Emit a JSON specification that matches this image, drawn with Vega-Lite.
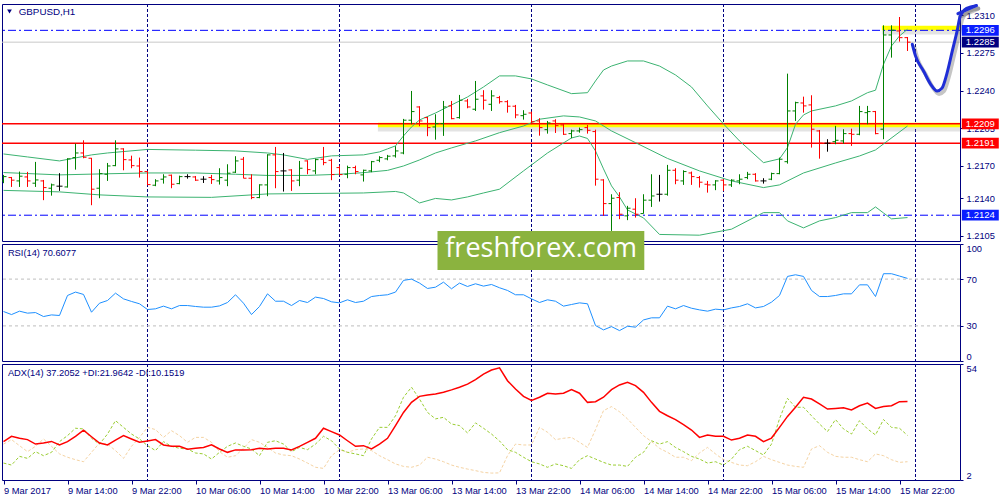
{
  "$schema": "https://vega.github.io/schema/vega-lite/v6.json",
  "background": "#ffffff",
  "padding": {"left": 0, "top": 0, "right": 0, "bottom": 0},
  "bounds": "flush",
  "spacing": 3,
  "config": {
    "font": "Liberation Sans",
    "view": {"stroke": "#000080", "strokeWidth": 1},
    "axis": {
      "title": null,
      "grid": false,
      "domain": false,
      "labelFont": "Liberation Sans",
      "labelFontSize": 9.3,
      "labelColor": "#000080",
      "tickColor": "#000080"
    }
  },
  "datasets": {
    "days": [{"i": 18}, {"i": 42}, {"i": 66}, {"i": 90}, {"i": 114}],
    "tags": [
      {"p": 1.2296, "kind": "level"},
      {"p": 1.2285, "kind": "bid"},
      {"p": 1.2209, "kind": "support"},
      {"p": 1.2191, "kind": "support"},
      {"p": 1.2124, "kind": "level"}
    ],
    "zones": [{"i": 46.8, "p": 1.2208}, {"i": 109.8, "p": 1.22982}],
    "arrow": [
      {"seg": "curve", "i": 113.6, "p": 1.2283},
      {"seg": "curve", "i": 114, "p": 1.22722},
      {"seg": "curve", "i": 115, "p": 1.22582},
      {"seg": "curve", "i": 115.9, "p": 1.22458},
      {"seg": "curve", "i": 116.7, "p": 1.22396},
      {"seg": "curve", "i": 117.3, "p": 1.22421},
      {"seg": "curve", "i": 117.9, "p": 1.22551},
      {"seg": "curve", "i": 118.6, "p": 1.22768},
      {"seg": "curve", "i": 119.2, "p": 1.22954},
      {"seg": "curve", "i": 119.6, "p": 1.23094},
      {"seg": "curve", "i": 120.4, "p": 1.23165},
      {"seg": "curve", "i": 121.6, "p": 1.2319},
      {"seg": "head", "i": 119.3, "p": 1.23115},
      {"seg": "head", "i": 121.6, "p": 1.2319}
    ],
    "bars": [
      {"i":0,"o":1.21559,"h":1.21615,"l":1.21538,"c":1.21599},
      {"i":1,"o":1.2159,"h":1.21596,"l":1.21503,"c":1.21566},
      {"i":2,"o":1.21559,"h":1.21646,"l":1.21503,"c":1.21603},
      {"i":3,"o":1.21596,"h":1.21643,"l":1.21503,"c":1.21559},
      {"i":4,"o":1.21538,"h":1.21736,"l":1.21503,"c":1.21568},
      {"i":5,"o":1.21559,"h":1.21568,"l":1.2138,"c":1.21497},
      {"i":6,"o":1.21491,"h":1.21534,"l":1.21422,"c":1.21522},
      {"i":7,"o":1.2151,"h":1.21631,"l":1.21466,"c":1.2151},
      {"i":8,"o":1.21503,"h":1.2177,"l":1.21497,"c":1.21764},
      {"i":9,"o":1.21776,"h":1.21906,"l":1.21664,"c":1.21819},
      {"i":10,"o":1.21819,"h":1.21937,"l":1.2177,"c":1.21779},
      {"i":11,"o":1.2177,"h":1.21773,"l":1.21333,"c":1.21482},
      {"i":12,"o":1.21491,"h":1.21668,"l":1.21398,"c":1.21627},
      {"i":13,"o":1.21621,"h":1.21726,"l":1.21559,"c":1.21698},
      {"i":14,"o":1.21701,"h":1.21937,"l":1.21696,"c":1.21857},
      {"i":15,"o":1.21857,"h":1.21863,"l":1.21658,"c":1.21757},
      {"i":16,"o":1.21754,"h":1.21794,"l":1.21677,"c":1.21701},
      {"i":17,"o":1.21698,"h":1.21776,"l":1.2159,"c":1.21646},
      {"i":18,"o":1.21646,"h":1.21652,"l":1.21519,"c":1.21525},
      {"i":19,"o":1.21519,"h":1.21575,"l":1.2151,"c":1.21559},
      {"i":20,"o":1.21575,"h":1.21621,"l":1.21534,"c":1.21596},
      {"i":21,"o":1.21612,"h":1.21618,"l":1.21491,"c":1.21528},
      {"i":22,"o":1.21534,"h":1.21608,"l":1.21528,"c":1.21599},
      {"i":23,"o":1.21599,"h":1.21621,"l":1.2158,"c":1.21599},
      {"i":24,"o":1.21596,"h":1.21605,"l":1.21559,"c":1.21566},
      {"i":25,"o":1.21575,"h":1.21603,"l":1.2154,"c":1.21575},
      {"i":26,"o":1.2159,"h":1.21615,"l":1.21531,"c":1.21571},
      {"i":27,"o":1.21559,"h":1.21677,"l":1.21525,"c":1.2159},
      {"i":28,"o":1.21566,"h":1.21714,"l":1.2151,"c":1.21631},
      {"i":29,"o":1.2164,"h":1.21789,"l":1.21633,"c":1.21745},
      {"i":30,"o":1.21761,"h":1.21782,"l":1.21584,"c":1.21584},
      {"i":31,"o":1.21584,"h":1.21621,"l":1.21389,"c":1.21404},
      {"i":32,"o":1.21404,"h":1.21528,"l":1.21398,"c":1.21522},
      {"i":33,"o":1.21522,"h":1.21807,"l":1.21417,"c":1.21801},
      {"i":34,"o":1.21801,"h":1.21875,"l":1.21491,"c":1.21646},
      {"i":35,"o":1.21652,"h":1.21819,"l":1.2146,"c":1.21652},
      {"i":36,"o":1.21661,"h":1.21668,"l":1.21466,"c":1.21559},
      {"i":37,"o":1.21566,"h":1.21745,"l":1.2151,"c":1.21677},
      {"i":38,"o":1.21745,"h":1.21751,"l":1.21621,"c":1.21664},
      {"i":39,"o":1.21652,"h":1.21766,"l":1.21621,"c":1.21757},
      {"i":40,"o":1.21761,"h":1.21875,"l":1.21705,"c":1.21729},
      {"i":41,"o":1.21751,"h":1.21764,"l":1.21566,"c":1.21618},
      {"i":42,"o":1.21683,"h":1.21701,"l":1.21612,"c":1.21618},
      {"i":43,"o":1.21621,"h":1.21701,"l":1.21584,"c":1.21683},
      {"i":44,"o":1.21683,"h":1.21701,"l":1.21621,"c":1.21646},
      {"i":45,"o":1.21615,"h":1.21664,"l":1.21553,"c":1.21658},
      {"i":46,"o":1.21652,"h":1.21745,"l":1.2164,"c":1.21738},
      {"i":47,"o":1.21751,"h":1.21789,"l":1.21733,"c":1.21776},
      {"i":48,"o":1.21764,"h":1.21801,"l":1.21751,"c":1.21789},
      {"i":49,"o":1.21792,"h":1.21882,"l":1.21776,"c":1.21838},
      {"i":50,"o":1.21819,"h":1.22136,"l":1.21807,"c":1.22124},
      {"i":51,"o":1.22124,"h":1.22396,"l":1.22086,"c":1.22204},
      {"i":52,"o":1.22247,"h":1.22254,"l":1.22068,"c":1.22117},
      {"i":53,"o":1.22148,"h":1.22154,"l":1.21975,"c":1.22055},
      {"i":54,"o":1.22061,"h":1.22179,"l":1.21943,"c":1.22092},
      {"i":55,"o":1.22092,"h":1.22303,"l":1.21978,"c":1.22247},
      {"i":56,"o":1.22257,"h":1.22303,"l":1.22133,"c":1.22138},
      {"i":57,"o":1.22148,"h":1.22359,"l":1.22138,"c":1.2231},
      {"i":58,"o":1.22303,"h":1.22322,"l":1.22235,"c":1.22247},
      {"i":59,"o":1.22226,"h":1.22489,"l":1.2221,"c":1.22319},
      {"i":60,"o":1.2235,"h":1.22403,"l":1.22222,"c":1.2231},
      {"i":61,"o":1.22272,"h":1.22403,"l":1.2221,"c":1.2235},
      {"i":62,"o":1.22334,"h":1.2235,"l":1.22278,"c":1.22296},
      {"i":63,"o":1.22296,"h":1.2231,"l":1.22194,"c":1.22254},
      {"i":64,"o":1.22254,"h":1.22266,"l":1.22142,"c":1.22173},
      {"i":65,"o":1.22166,"h":1.22217,"l":1.22129,"c":1.22179},
      {"i":66,"o":1.22191,"h":1.22204,"l":1.22086,"c":1.2211},
      {"i":67,"o":1.22117,"h":1.22142,"l":1.2198,"c":1.22055},
      {"i":68,"o":1.22036,"h":1.22117,"l":1.21999,"c":1.22098},
      {"i":69,"o":1.22117,"h":1.22133,"l":1.22005,"c":1.22073},
      {"i":70,"o":1.2208,"h":1.22092,"l":1.21987,"c":1.21993},
      {"i":71,"o":1.21999,"h":1.22036,"l":1.21956,"c":1.22024},
      {"i":72,"o":1.22024,"h":1.22055,"l":1.22008,"c":1.22036},
      {"i":73,"o":1.22055,"h":1.2208,"l":1.21999,"c":1.2203},
      {"i":74,"o":1.22018,"h":1.22036,"l":1.21515,"c":1.21575},
      {"i":75,"o":1.21568,"h":1.21575,"l":1.21234,"c":1.21348},
      {"i":76,"o":1.21348,"h":1.21435,"l":1.21094,"c":1.21398},
      {"i":77,"o":1.21404,"h":1.21454,"l":1.21203,"c":1.21249},
      {"i":78,"o":1.21234,"h":1.21327,"l":1.21194,"c":1.21305},
      {"i":79,"o":1.21296,"h":1.21398,"l":1.21218,"c":1.21249},
      {"i":80,"o":1.21255,"h":1.21435,"l":1.21255,"c":1.2138},
      {"i":81,"o":1.2138,"h":1.21621,"l":1.21317,"c":1.21419},
      {"i":82,"o":1.21435,"h":1.21615,"l":1.21367,"c":1.21435},
      {"i":83,"o":1.21435,"h":1.21708,"l":1.21422,"c":1.21658},
      {"i":84,"o":1.21658,"h":1.21677,"l":1.21528,"c":1.21566},
      {"i":85,"o":1.21559,"h":1.21658,"l":1.21522,"c":1.21646},
      {"i":86,"o":1.21633,"h":1.21646,"l":1.21522,"c":1.21599},
      {"i":87,"o":1.2159,"h":1.21605,"l":1.21497,"c":1.21547},
      {"i":88,"o":1.21528,"h":1.21559,"l":1.2145,"c":1.21522},
      {"i":89,"o":1.21522,"h":1.21566,"l":1.21473,"c":1.21559},
      {"i":90,"o":1.21566,"h":1.21575,"l":1.21466,"c":1.21522},
      {"i":91,"o":1.21522,"h":1.21575,"l":1.21503,"c":1.21566},
      {"i":92,"o":1.21559,"h":1.21621,"l":1.21528,"c":1.21575},
      {"i":93,"o":1.2159,"h":1.21643,"l":1.21575,"c":1.21621},
      {"i":94,"o":1.21621,"h":1.21631,"l":1.21553,"c":1.21559},
      {"i":95,"o":1.21559,"h":1.21584,"l":1.21534,"c":1.21559},
      {"i":96,"o":1.21575,"h":1.21636,"l":1.21566,"c":1.21627},
      {"i":97,"o":1.21627,"h":1.21776,"l":1.21621,"c":1.21761},
      {"i":98,"o":1.21738,"h":1.22557,"l":1.2172,"c":1.2221},
      {"i":99,"o":1.2221,"h":1.22296,"l":1.22117,"c":1.22287},
      {"i":100,"o":1.22284,"h":1.22343,"l":1.22194,"c":1.22257},
      {"i":101,"o":1.22266,"h":1.22356,"l":1.21869,"c":1.2204},
      {"i":102,"o":1.22024,"h":1.22033,"l":1.21766,"c":1.2191},
      {"i":103,"o":1.2191,"h":1.21947,"l":1.21831,"c":1.2191},
      {"i":104,"o":1.21924,"h":1.22071,"l":1.219,"c":1.21937},
      {"i":105,"o":1.21931,"h":1.2204,"l":1.21906,"c":1.21999},
      {"i":106,"o":1.21999,"h":1.22045,"l":1.21885,"c":1.21993},
      {"i":107,"o":1.21993,"h":1.22257,"l":1.21984,"c":1.22204},
      {"i":108,"o":1.22194,"h":1.22257,"l":1.22086,"c":1.22204},
      {"i":109,"o":1.22204,"h":1.2221,"l":1.21993,"c":1.21999},
      {"i":110,"o":1.2204,"h":1.23007,"l":1.21947,"c":1.22917},
      {"i":111,"o":1.22917,"h":1.23007,"l":1.22706,"c":1.22961},
      {"i":112,"o":1.22954,"h":1.23084,"l":1.22855,"c":1.22892},
      {"i":113,"o":1.22892,"h":1.22898,"l":1.22768,"c":1.2285}
    ],
    "bb": [
      {"band":"upper","i":0,"v":1.2181},{"band":"upper","i":3,"v":1.21782},{"band":"upper","i":7,"v":1.21745},
      {"band":"upper","i":9,"v":1.21773},{"band":"upper","i":11,"v":1.21801},{"band":"upper","i":13,"v":1.21819},
      {"band":"upper","i":18,"v":1.21852},{"band":"upper","i":24,"v":1.21845},{"band":"upper","i":29,"v":1.21838},
      {"band":"upper","i":33,"v":1.21819},{"band":"upper","i":35,"v":1.21801},{"band":"upper","i":38,"v":1.21759},
      {"band":"upper","i":41,"v":1.21792},{"band":"upper","i":45,"v":1.21801},{"band":"upper","i":47,"v":1.21829},
      {"band":"upper","i":48,"v":1.21857},{"band":"upper","i":49,"v":1.21885},{"band":"upper","i":50,"v":1.21978},
      {"band":"upper","i":51,"v":1.22061},{"band":"upper","i":52,"v":1.22126},{"band":"upper","i":54,"v":1.22191},
      {"band":"upper","i":56,"v":1.22266},{"band":"upper","i":58,"v":1.2234},{"band":"upper","i":60,"v":1.22433},
      {"band":"upper","i":62,"v":1.22536},{"band":"upper","i":64,"v":1.22536},{"band":"upper","i":66,"v":1.22508},
      {"band":"upper","i":68,"v":1.22452},{"band":"upper","i":71,"v":1.22371},{"band":"upper","i":73,"v":1.2238},
      {"band":"upper","i":74,"v":1.22489},{"band":"upper","i":75,"v":1.22591},{"band":"upper","i":76,"v":1.22628},
      {"band":"upper","i":78,"v":1.22675},{"band":"upper","i":80,"v":1.22675},{"band":"upper","i":82,"v":1.22628},
      {"band":"upper","i":84,"v":1.22545},{"band":"upper","i":86,"v":1.22433},{"band":"upper","i":88,"v":1.22257},
      {"band":"upper","i":90,"v":1.22089},{"band":"upper","i":92,"v":1.21931},{"band":"upper","i":95,"v":1.21729},
      {"band":"upper","i":97,"v":1.21764},{"band":"upper","i":98,"v":1.21869},{"band":"upper","i":99,"v":1.22086},
      {"band":"upper","i":100,"v":1.22173},{"band":"upper","i":101,"v":1.2221},{"band":"upper","i":104,"v":1.22257},
      {"band":"upper","i":106,"v":1.22303},{"band":"upper","i":108,"v":1.2238},{"band":"upper","i":109,"v":1.22403},
      {"band":"upper","i":110,"v":1.22644},{"band":"upper","i":111,"v":1.22815},{"band":"upper","i":112,"v":1.22908},
      {"band":"upper","i":113,"v":1.2297},
      {"band":"middle","i":0,"v":1.21637},{"band":"middle","i":7,"v":1.21615},{"band":"middle","i":12,"v":1.21624},
      {"band":"middle","i":18,"v":1.21633},{"band":"middle","i":24,"v":1.21633},{"band":"middle","i":29,"v":1.21621},
      {"band":"middle","i":33,"v":1.2161},{"band":"middle","i":38,"v":1.2161},{"band":"middle","i":42,"v":1.21621},
      {"band":"middle","i":45,"v":1.21636},{"band":"middle","i":48,"v":1.21657},{"band":"middle","i":50,"v":1.21698},
      {"band":"middle","i":52,"v":1.21754},{"band":"middle","i":54,"v":1.21819},{"band":"middle","i":56,"v":1.21866},
      {"band":"middle","i":59,"v":1.21931},{"band":"middle","i":62,"v":1.22008},{"band":"middle","i":65,"v":1.2207},
      {"band":"middle","i":67,"v":1.22133},{"band":"middle","i":70,"v":1.22164},{"band":"middle","i":72,"v":1.22154},
      {"band":"middle","i":74,"v":1.22117},{"band":"middle","i":76,"v":1.22024},{"band":"middle","i":79,"v":1.21915},
      {"band":"middle","i":83,"v":1.21768},{"band":"middle","i":87,"v":1.21652},{"band":"middle","i":91,"v":1.21559},
      {"band":"middle","i":95,"v":1.21497},{"band":"middle","i":97,"v":1.21522},{"band":"middle","i":100,"v":1.21633},
      {"band":"middle","i":104,"v":1.21726},{"band":"middle","i":107,"v":1.21791},{"band":"middle","i":109,"v":1.21847},
      {"band":"middle","i":110,"v":1.21903},{"band":"middle","i":113,"v":1.2207},
      {"band":"lower","i":0,"v":1.21471},{"band":"lower","i":7,"v":1.21457},{"band":"lower","i":12,"v":1.21429},
      {"band":"lower","i":18,"v":1.2141},{"band":"lower","i":26,"v":1.21406},{"band":"lower","i":33,"v":1.21438},
      {"band":"lower","i":45,"v":1.21447},{"band":"lower","i":49,"v":1.21461},{"band":"lower","i":50,"v":1.21447},
      {"band":"lower","i":51,"v":1.21401},{"band":"lower","i":52,"v":1.21354},{"band":"lower","i":54,"v":1.21396},
      {"band":"lower","i":56,"v":1.21382},{"band":"lower","i":58,"v":1.2141},{"band":"lower","i":60,"v":1.21447},
      {"band":"lower","i":62,"v":1.21482},{"band":"lower","i":65,"v":1.21652},{"band":"lower","i":68,"v":1.21819},
      {"band":"lower","i":71,"v":1.21959},{"band":"lower","i":72,"v":1.21977},{"band":"lower","i":73,"v":1.21954},
      {"band":"lower","i":74,"v":1.21838},{"band":"lower","i":75,"v":1.21671},{"band":"lower","i":76,"v":1.21513},
      {"band":"lower","i":77,"v":1.2141},{"band":"lower","i":78,"v":1.21289},{"band":"lower","i":80,"v":1.21215},
      {"band":"lower","i":82,"v":1.21061},{"band":"lower","i":87,"v":1.21054},{"band":"lower","i":91,"v":1.2111},
      {"band":"lower","i":95,"v":1.21264},{"band":"lower","i":97,"v":1.21264},{"band":"lower","i":98,"v":1.21187},
      {"band":"lower","i":100,"v":1.21122},{"band":"lower","i":102,"v":1.21187},{"band":"lower","i":104,"v":1.21218},
      {"band":"lower","i":106,"v":1.21264},{"band":"lower","i":108,"v":1.21264},{"band":"lower","i":109,"v":1.21317},
      {"band":"lower","i":110,"v":1.21261},{"band":"lower","i":111,"v":1.21206},{"band":"lower","i":113,"v":1.21218}
    ],
    "rsi": [
      {"i":0,"v":42.3},{"i":1,"v":39.7},{"i":2,"v":42.6},{"i":3,"v":40.9},{"i":4,"v":41.4},{"i":5,"v":38.0},
      {"i":6,"v":39.4},{"i":7,"v":38.9},{"i":8,"v":56.0},{"i":9,"v":58.9},{"i":10,"v":56.9},{"i":11,"v":41.7},
      {"i":12,"v":49.4},{"i":13,"v":51.7},{"i":14,"v":58.0},{"i":15,"v":53.1},{"i":16,"v":50.9},{"i":17,"v":48.9},
      {"i":18,"v":44.0},{"i":19,"v":44.6},{"i":20,"v":46.9},{"i":21,"v":44.6},{"i":22,"v":47.4},{"i":23,"v":47.4},
      {"i":24,"v":46.6},{"i":25,"v":46.0},{"i":26,"v":46.0},{"i":27,"v":47.1},{"i":28,"v":50.0},{"i":29,"v":56.6},
      {"i":30,"v":49.4},{"i":31,"v":39.7},{"i":32,"v":46.6},{"i":33,"v":57.4},{"i":34,"v":51.1},{"i":35,"v":51.1},
      {"i":36,"v":47.4},{"i":37,"v":51.7},{"i":38,"v":50.0},{"i":39,"v":54.6},{"i":40,"v":53.4},{"i":41,"v":50.6},
      {"i":42,"v":49.7},{"i":43,"v":52.3},{"i":44,"v":50.0},{"i":45,"v":51.1},{"i":46,"v":55.1},{"i":47,"v":56.0},
      {"i":48,"v":56.6},{"i":49,"v":58.9},{"i":50,"v":68.9},{"i":51,"v":70.0},{"i":52,"v":66.6},{"i":53,"v":62.0},
      {"i":54,"v":63.1},{"i":55,"v":67.4},{"i":56,"v":61.7},{"i":57,"v":66.6},{"i":58,"v":63.7},{"i":59,"v":66.0},
      {"i":60,"v":64.0},{"i":61,"v":65.4},{"i":62,"v":62.6},{"i":63,"v":60.3},{"i":64,"v":56.6},{"i":65,"v":56.6},
      {"i":66,"v":53.1},{"i":67,"v":50.0},{"i":68,"v":52.3},{"i":69,"v":51.1},{"i":70,"v":46.9},{"i":71,"v":48.3},
      {"i":72,"v":49.7},{"i":73,"v":48.9},{"i":74,"v":30.3},{"i":75,"v":26.6},{"i":76,"v":29.4},{"i":77,"v":26.0},
      {"i":78,"v":29.7},{"i":79,"v":28.9},{"i":80,"v":35.1},{"i":81,"v":36.9},{"i":82,"v":36.9},{"i":83,"v":46.9},
      {"i":84,"v":44.6},{"i":85,"v":47.4},{"i":86,"v":45.1},{"i":87,"v":43.7},{"i":88,"v":42.6},{"i":89,"v":44.3},
      {"i":90,"v":43.7},{"i":91,"v":45.4},{"i":92,"v":46.6},{"i":93,"v":48.9},{"i":94,"v":45.4},{"i":95,"v":46.6},
      {"i":96,"v":50.3},{"i":97,"v":56.0},{"i":98,"v":72.3},{"i":99,"v":73.7},{"i":100,"v":72.3},{"i":101,"v":60.3},
      {"i":102,"v":55.1},{"i":103,"v":55.1},{"i":104,"v":56.0},{"i":105,"v":57.4},{"i":106,"v":57.4},{"i":107,"v":65.1},
      {"i":108,"v":65.1},{"i":109,"v":55.1},{"i":110,"v":74.6},{"i":111,"v":74.6},{"i":112,"v":72.6},{"i":113,"v":70.6}
    ],
    "adx": [
      {"i":0,"adx":19.2,"pdi":9.6,"mdi":18.1},{"i":1,"adx":21.6,"pdi":8.7,"mdi":20.1},{"i":2,"adx":20.7,"pdi":12.6,"mdi":17.4},
      {"i":3,"adx":20.1,"pdi":11.7,"mdi":14.7},{"i":4,"adx":18.1,"pdi":14.7,"mdi":17.1},{"i":5,"adx":18.6,"pdi":12.9,"mdi":20.4},
      {"i":6,"adx":19.3,"pdi":14.4,"mdi":17.1},{"i":7,"adx":17.7,"pdi":19.2,"mdi":13.7},{"i":8,"adx":19.2,"pdi":21.9,"mdi":12.2},
      {"i":9,"adx":21.6,"pdi":25.2,"mdi":11.1},{"i":10,"adx":24.3,"pdi":24.9,"mdi":10.2},{"i":11,"adx":21.4,"pdi":20.7,"mdi":14.4},
      {"i":12,"adx":18.6,"pdi":18.1,"mdi":18.6},{"i":13,"adx":17.7,"pdi":22.6,"mdi":18.1},{"i":14,"adx":19.9,"pdi":28.6,"mdi":15.2},
      {"i":15,"adx":21.9,"pdi":25.6,"mdi":11.7},{"i":16,"adx":20.4,"pdi":22.6,"mdi":17.1},{"i":17,"adx":18.9,"pdi":20.4,"mdi":21.1},
      {"i":18,"adx":19.5,"pdi":17.4,"mdi":25.6},{"i":19,"adx":20.1,"pdi":15.2,"mdi":24.6},{"i":20,"adx":17.7,"pdi":19.2,"mdi":21.1},
      {"i":21,"adx":17.1,"pdi":17.1,"mdi":24.1},{"i":22,"adx":17.1,"pdi":16.2,"mdi":21.9},{"i":23,"adx":15.8,"pdi":15.9,"mdi":18.9},
      {"i":24,"adx":16.2,"pdi":14.1,"mdi":21.1},{"i":25,"adx":16.6,"pdi":13.7,"mdi":21.1},{"i":26,"adx":17.8,"pdi":11.4,"mdi":18.9},
      {"i":27,"adx":15.9,"pdi":14.4,"mdi":14.7},{"i":28,"adx":14.4,"pdi":17.1,"mdi":12.2},{"i":29,"adx":15.5,"pdi":18.6,"mdi":12.9},
      {"i":30,"adx":15.5,"pdi":17.1,"mdi":16.2},{"i":31,"adx":15.6,"pdi":15.9,"mdi":20.1},{"i":32,"adx":16.2,"pdi":12.9,"mdi":18.9},
      {"i":33,"adx":15.9,"pdi":18.9,"mdi":16.6},{"i":34,"adx":16.2,"pdi":19.6,"mdi":14.1},{"i":35,"adx":16.2,"pdi":18.1,"mdi":13.2},
      {"i":36,"adx":15.5,"pdi":14.7,"mdi":12.9},{"i":37,"adx":17.1,"pdi":16.6,"mdi":11.4},{"i":38,"adx":18.9,"pdi":15.6,"mdi":9.6},
      {"i":39,"adx":20.7,"pdi":18.1,"mdi":7.7},{"i":40,"adx":25.2,"pdi":21.6,"mdi":7.2},{"i":41,"adx":23.7,"pdi":19.6,"mdi":12.9},
      {"i":42,"adx":22.2,"pdi":15.9,"mdi":15.6},{"i":43,"adx":19.6,"pdi":14.4,"mdi":14.4},{"i":44,"adx":17.1,"pdi":13.7,"mdi":15.6},
      {"i":45,"adx":17.4,"pdi":12.9,"mdi":15.9},{"i":46,"adx":15.9,"pdi":20.4,"mdi":15.2},{"i":47,"adx":18.1,"pdi":25.6,"mdi":12.9},
      {"i":48,"adx":20.7,"pdi":25.6,"mdi":11.1},{"i":49,"adx":26.4,"pdi":30.8,"mdi":9.2},{"i":50,"adx":32.3,"pdi":39.1,"mdi":8.1},
      {"i":51,"adx":36.8,"pdi":43.6,"mdi":7.7},{"i":52,"adx":39.5,"pdi":38.3,"mdi":8.7},{"i":53,"adx":40.1,"pdi":32.3,"mdi":12.2},
      {"i":54,"adx":40.6,"pdi":29.4,"mdi":11.4},{"i":55,"adx":41.3,"pdi":30.1,"mdi":10.2},{"i":56,"adx":42.4,"pdi":27.1,"mdi":8.7},
      {"i":57,"adx":43.6,"pdi":26.4,"mdi":7.7},{"i":58,"adx":45.0,"pdi":23.1,"mdi":6.9},{"i":59,"adx":47.0,"pdi":27.6,"mdi":6.2},
      {"i":60,"adx":49.5,"pdi":25.2,"mdi":5.4},{"i":61,"adx":51.3,"pdi":22.6,"mdi":5.1},{"i":62,"adx":52.3,"pdi":19.5,"mdi":5.2},
      {"i":63,"adx":46.5,"pdi":15.6,"mdi":12.9},{"i":64,"adx":42.8,"pdi":14.4,"mdi":18.1},{"i":65,"adx":39.5,"pdi":12.2,"mdi":17.7},
      {"i":66,"adx":37.7,"pdi":10.2,"mdi":17.7},{"i":67,"adx":39.1,"pdi":9.2,"mdi":25.6},{"i":68,"adx":40.9,"pdi":7.7,"mdi":23.4},
      {"i":69,"adx":40.6,"pdi":9.2,"mdi":20.1},{"i":70,"adx":40.9,"pdi":8.4,"mdi":20.7},{"i":71,"adx":42.5,"pdi":7.2,"mdi":21.1},
      {"i":72,"adx":40.9,"pdi":11.1,"mdi":18.9},{"i":73,"adx":36.8,"pdi":12.9,"mdi":16.6},{"i":74,"adx":37.1,"pdi":11.4,"mdi":24.6},
      {"i":75,"adx":39.1,"pdi":9.9,"mdi":33.1},{"i":76,"adx":42.5,"pdi":8.7,"mdi":34.9},{"i":77,"adx":44.6,"pdi":8.7,"mdi":32.6},
      {"i":78,"adx":45.8,"pdi":8.1,"mdi":29.4},{"i":79,"adx":44.3,"pdi":12.2,"mdi":25.6},{"i":80,"adx":41.3,"pdi":14.4,"mdi":21.9},
      {"i":81,"adx":36.8,"pdi":19.6,"mdi":19.2},{"i":82,"adx":32.8,"pdi":18.1,"mdi":16.2},{"i":83,"adx":30.8,"pdi":19.2,"mdi":14.4},
      {"i":84,"adx":29.1,"pdi":16.6,"mdi":12.2},{"i":85,"adx":26.8,"pdi":14.7,"mdi":12.2},{"i":86,"adx":24.4,"pdi":12.6,"mdi":10.7},
      {"i":87,"adx":21.1,"pdi":11.4,"mdi":14.1},{"i":88,"adx":22.2,"pdi":9.6,"mdi":16.6},{"i":89,"adx":21.6,"pdi":10.2,"mdi":13.7},
      {"i":90,"adx":21.6,"pdi":8.7,"mdi":11.1},{"i":91,"adx":19.9,"pdi":11.4,"mdi":9.9},{"i":92,"adx":20.7,"pdi":15.6,"mdi":8.7},
      {"i":93,"adx":22.2,"pdi":17.1,"mdi":8.4},{"i":94,"adx":21.6,"pdi":15.2,"mdi":10.2},{"i":95,"adx":19.2,"pdi":13.2,"mdi":12.6},
      {"i":96,"adx":20.8,"pdi":18.1,"mdi":11.1},{"i":97,"adx":25.6,"pdi":29.4,"mdi":9.9},{"i":98,"adx":30.5,"pdi":38.6,"mdi":8.7},
      {"i":99,"adx":34.6,"pdi":34.6,"mdi":8.1},{"i":100,"adx":39.1,"pdi":34.6,"mdi":7.7},{"i":101,"adx":38.3,"pdi":30.8,"mdi":15.9},
      {"i":102,"adx":36.1,"pdi":27.1,"mdi":17.4},{"i":103,"adx":33.8,"pdi":23.7,"mdi":14.4},{"i":104,"adx":34.1,"pdi":29.1,"mdi":12.6},
      {"i":105,"adx":34.4,"pdi":24.9,"mdi":12.2},{"i":106,"adx":33.4,"pdi":22.6,"mdi":12.2},{"i":107,"adx":35.3,"pdi":28.6,"mdi":11.1},
      {"i":108,"adx":36.5,"pdi":24.9,"mdi":10.2},{"i":109,"adx":34.1,"pdi":22.2,"mdi":13.7},{"i":110,"adx":34.9,"pdi":29.1,"mdi":12.9},
      {"i":111,"adx":35.3,"pdi":25.6,"mdi":11.1},{"i":112,"adx":37.1,"pdi":25.2,"mdi":9.9},{"i":113,"adx":37.2,"pdi":22.0,"mdi":10.2}
    ]
  },
  "vconcat": [
    {
      "width": 958,
      "height": 237,
      "layer": [
        {
          "data": {"name": "days"},
          "mark": {"type": "rule", "color": "#000080", "strokeDash": [3, 2], "strokeWidth": 1, "clip": true},
          "encoding": {
            "x": {"field": "i", "type": "quantitative", "scale": {"domain": [-0.1875, 119.5625], "nice": false, "zero": false}, "axis": null}
          }
        },
        {
          "data": {"name": "zones"},
          "mark": {"type": "rule", "color": "#808080", "opacity": 0.22, "strokeWidth": 5, "yOffset": 4, "clip": true},
          "encoding": {
            "x": {"field": "i", "type": "quantitative", "scale": {"domain": [-0.1875, 119.5625], "nice": false, "zero": false}, "axis": null},
            "x2": {"datum": 119.5625},
            "y": {"field": "p", "type": "quantitative", "scale": {"domain": [1.21, 1.23205], "nice": false, "zero": false},
                  "axis": {"orient": "right", "values": [1.2105, 1.214, 1.217, 1.2205, 1.224, 1.2275, 1.231], "format": ".4f", "tickSize": 3, "labelPadding": 3}}
          }
        },
        {
          "data": {"name": "zones"},
          "mark": {"type": "rule", "color": "#FFFF00", "strokeWidth": 4.5, "clip": true},
          "encoding": {
            "x": {"field": "i", "type": "quantitative", "scale": {"domain": [-0.1875, 119.5625], "nice": false, "zero": false}, "axis": null},
            "x2": {"datum": 119.5625},
            "y": {"field": "p", "type": "quantitative", "scale": {"domain": [1.21, 1.23205], "nice": false, "zero": false},
                  "axis": {"orient": "right", "values": [1.2105, 1.214, 1.217, 1.2205, 1.224, 1.2275, 1.231], "format": ".4f", "tickSize": 3, "labelPadding": 3}}
          }
        },
        {
          "data": {"name": "tags"},
          "transform": [{"filter": "datum.kind == 'bid'"}],
          "mark": {"type": "rule", "color": "#C8C8C8", "strokeWidth": 1},
          "encoding": {
            "y": {"field": "p", "type": "quantitative", "scale": {"domain": [1.21, 1.23205], "nice": false, "zero": false},
                  "axis": {"orient": "right", "values": [1.2105, 1.214, 1.217, 1.2205, 1.224, 1.2275, 1.231], "format": ".4f", "tickSize": 3, "labelPadding": 3}}
          }
        },
        {
          "data": {"name": "tags"},
          "transform": [{"filter": "datum.kind == 'level'"}],
          "mark": {"type": "rule", "color": "#0000FF", "strokeWidth": 1, "strokeDash": [8, 3, 2, 3]},
          "encoding": {
            "y": {"field": "p", "type": "quantitative", "scale": {"domain": [1.21, 1.23205], "nice": false, "zero": false},
                  "axis": {"orient": "right", "values": [1.2105, 1.214, 1.217, 1.2205, 1.224, 1.2275, 1.231], "format": ".4f", "tickSize": 3, "labelPadding": 3}}
          }
        },
        {
          "data": {"name": "tags"},
          "transform": [{"filter": "datum.kind == 'support'"}],
          "mark": {"type": "rule", "color": "#FF0000", "strokeWidth": 1.5},
          "encoding": {
            "y": {"field": "p", "type": "quantitative", "scale": {"domain": [1.21, 1.23205], "nice": false, "zero": false},
                  "axis": {"orient": "right", "values": [1.2105, 1.214, 1.217, 1.2205, 1.224, 1.2275, 1.231], "format": ".4f", "tickSize": 3, "labelPadding": 3}}
          }
        },
        {
          "data": {"name": "bb"},
          "mark": {"type": "line", "color": "#3CB371", "strokeWidth": 1, "clip": true},
          "encoding": {
            "x": {"field": "i", "type": "quantitative", "scale": {"domain": [-0.1875, 119.5625], "nice": false, "zero": false}, "axis": null},
            "y": {"field": "v", "type": "quantitative", "scale": {"domain": [1.21, 1.23205], "nice": false, "zero": false},
                  "axis": {"orient": "right", "values": [1.2105, 1.214, 1.217, 1.2205, 1.224, 1.2275, 1.231], "format": ".4f", "tickSize": 3, "labelPadding": 3}},
            "detail": {"field": "band"}
          }
        },
        {
          "data": {"name": "bars"},
          "mark": {"type": "rule", "strokeWidth": 1, "clip": true},
          "encoding": {
            "x": {"field": "i", "type": "quantitative", "scale": {"domain": [-0.1875, 119.5625], "nice": false, "zero": false}, "axis": null},
            "y": {"field": "l", "type": "quantitative", "scale": {"domain": [1.21, 1.23205], "nice": false, "zero": false},
                  "axis": {"orient": "right", "values": [1.2105, 1.214, 1.217, 1.2205, 1.224, 1.2275, 1.231], "format": ".4f", "tickSize": 3, "labelPadding": 3}},
            "y2": {"field": "h"},
            "color": {
              "condition": [
                {"test": "datum.c > datum.o", "value": "#008000"},
                {"test": "datum.c < datum.o", "value": "#FF0000"}
              ],
              "value": "#000000"
            }
          }
        },
        {
          "data": {"name": "bars"},
          "mark": {"type": "rule", "strokeWidth": 1, "xOffset": -3, "clip": true},
          "encoding": {
            "x": {"field": "i", "type": "quantitative", "scale": {"domain": [-0.1875, 119.5625], "nice": false, "zero": false}, "axis": null},
            "x2": {"field": "i"},
            "y": {"field": "o", "type": "quantitative", "scale": {"domain": [1.21, 1.23205], "nice": false, "zero": false},
                  "axis": {"orient": "right", "values": [1.2105, 1.214, 1.217, 1.2205, 1.224, 1.2275, 1.231], "format": ".4f", "tickSize": 3, "labelPadding": 3}},
            "color": {
              "condition": [
                {"test": "datum.c > datum.o", "value": "#008000"},
                {"test": "datum.c < datum.o", "value": "#FF0000"}
              ],
              "value": "#000000"
            }
          }
        },
        {
          "data": {"name": "bars"},
          "mark": {"type": "rule", "strokeWidth": 1, "x2Offset": 3, "clip": true},
          "encoding": {
            "x": {"field": "i", "type": "quantitative", "scale": {"domain": [-0.1875, 119.5625], "nice": false, "zero": false}, "axis": null},
            "x2": {"field": "i"},
            "y": {"field": "c", "type": "quantitative", "scale": {"domain": [1.21, 1.23205], "nice": false, "zero": false},
                  "axis": {"orient": "right", "values": [1.2105, 1.214, 1.217, 1.2205, 1.224, 1.2275, 1.231], "format": ".4f", "tickSize": 3, "labelPadding": 3}},
            "color": {
              "condition": [
                {"test": "datum.c > datum.o", "value": "#008000"},
                {"test": "datum.c < datum.o", "value": "#FF0000"}
              ],
              "value": "#000000"
            }
          }
        },
        {
          "data": {"name": "arrow"},
          "mark": {"type": "line", "color": "#404040", "opacity": 0.3, "strokeWidth": 4, "xOffset": 2, "yOffset": 3, "interpolate": "monotone", "strokeCap": "round"},
          "encoding": {
            "x": {"field": "i", "type": "quantitative", "scale": {"domain": [-0.1875, 119.5625], "nice": false, "zero": false}, "axis": null},
            "y": {"field": "p", "type": "quantitative", "scale": {"domain": [1.21, 1.23205], "nice": false, "zero": false},
                  "axis": {"orient": "right", "values": [1.2105, 1.214, 1.217, 1.2205, 1.224, 1.2275, 1.231], "format": ".4f", "tickSize": 3, "labelPadding": 3}},
            "detail": {"field": "seg"}
          }
        },
        {
          "data": {"name": "arrow"},
          "mark": {"type": "line", "color": "#1F2ED6", "strokeWidth": 3, "interpolate": "monotone", "strokeCap": "round", "strokeJoin": "round"},
          "encoding": {
            "x": {"field": "i", "type": "quantitative", "scale": {"domain": [-0.1875, 119.5625], "nice": false, "zero": false}, "axis": null},
            "y": {"field": "p", "type": "quantitative", "scale": {"domain": [1.21, 1.23205], "nice": false, "zero": false},
                  "axis": {"orient": "right", "values": [1.2105, 1.214, 1.217, 1.2205, 1.224, 1.2275, 1.231], "format": ".4f", "tickSize": 3, "labelPadding": 3}},
            "detail": {"field": "seg"}
          }
        },
        {
          "data": {"name": "tags"},
          "mark": {"type": "point", "shape": "M-1,-0.29H1V0.29H-1Z", "filled": true, "opacity": 1, "size": 1369},
          "encoding": {
            "x": {"datum": 122.1, "type": "quantitative", "scale": {"domain": [-0.1875, 119.5625], "nice": false, "zero": false}, "axis": null},
            "y": {"field": "p", "type": "quantitative", "scale": {"domain": [1.21, 1.23205], "nice": false, "zero": false},
                  "axis": {"orient": "right", "values": [1.2105, 1.214, 1.217, 1.2205, 1.224, 1.2275, 1.231], "format": ".4f", "tickSize": 3, "labelPadding": 3}},
            "color": {
              "field": "kind", "type": "nominal",
              "scale": {"domain": ["level", "bid", "support"], "range": ["#0A1EFF", "#000080", "#FF0000"]},
              "legend": null
            }
          }
        },
        {
          "data": {"name": "tags"},
          "mark": {"type": "text", "color": "#ffffff", "fontSize": 9.5, "align": "center", "baseline": "middle"},
          "encoding": {
            "x": {"datum": 122.1, "type": "quantitative", "scale": {"domain": [-0.1875, 119.5625], "nice": false, "zero": false}, "axis": null},
            "y": {"field": "p", "type": "quantitative", "scale": {"domain": [1.21, 1.23205], "nice": false, "zero": false},
                  "axis": {"orient": "right", "values": [1.2105, 1.214, 1.217, 1.2205, 1.224, 1.2275, 1.231], "format": ".4f", "tickSize": 3, "labelPadding": 3}},
            "text": {"field": "p", "type": "quantitative", "format": ".4f"}
          }
        },
        {
          "data": {"values": [{}]},
          "mark": {"type": "point", "shape": "triangle-down", "filled": true, "color": "#000080", "opacity": 1, "size": 22},
          "encoding": {
            "x": {"datum": 0.75, "type": "quantitative", "scale": {"domain": [-0.1875, 119.5625], "nice": false, "zero": false}, "axis": null},
            "y": {"datum": 1.23136, "type": "quantitative", "scale": {"domain": [1.21, 1.23205], "nice": false, "zero": false},
                  "axis": {"orient": "right", "values": [1.2105, 1.214, 1.217, 1.2205, 1.224, 1.2275, 1.231], "format": ".4f", "tickSize": 3, "labelPadding": 3}}
          }
        },
        {
          "data": {"values": [{}]},
          "mark": {"type": "text", "color": "#000080", "fontSize": 9.8, "align": "left", "baseline": "middle", "text": "GBPUSD,H1"},
          "encoding": {
            "x": {"datum": 1.9, "type": "quantitative", "scale": {"domain": [-0.1875, 119.5625], "nice": false, "zero": false}, "axis": null},
            "y": {"datum": 1.23134, "type": "quantitative", "scale": {"domain": [1.21, 1.23205], "nice": false, "zero": false},
                  "axis": {"orient": "right", "values": [1.2105, 1.214, 1.217, 1.2205, 1.224, 1.2275, 1.231], "format": ".4f", "tickSize": 3, "labelPadding": 3}}
          }
        }
      ]
    },
    {
      "width": 958,
      "height": 117,
      "layer": [
        {
          "data": {"name": "days"},
          "mark": {"type": "rule", "color": "#000080", "strokeDash": [3, 2], "strokeWidth": 1, "clip": true},
          "encoding": {
            "x": {"field": "i", "type": "quantitative", "scale": {"domain": [-0.1875, 119.5625], "nice": false, "zero": false}, "axis": null}
          }
        },
        {
          "data": {"values": [{"v": 30}, {"v": 70}]},
          "mark": {"type": "rule", "color": "#BEBEBE", "strokeDash": [3, 3], "strokeWidth": 1},
          "encoding": {
            "y": {"field": "v", "type": "quantitative", "scale": {"domain": [0, 100], "nice": false, "zero": false},
                  "axis": {"orient": "right", "values": [0, 30, 70, 100], "labelFlush": true, "tickSize": 3, "labelPadding": 3}}
          }
        },
        {
          "data": {"name": "rsi"},
          "mark": {"type": "line", "color": "#1E90FF", "strokeWidth": 1, "clip": true},
          "encoding": {
            "x": {"field": "i", "type": "quantitative", "scale": {"domain": [-0.1875, 119.5625], "nice": false, "zero": false}, "axis": null},
            "y": {"field": "v", "type": "quantitative", "scale": {"domain": [0, 100], "nice": false, "zero": false},
                  "axis": {"orient": "right", "values": [0, 30, 70, 100], "labelFlush": true, "tickSize": 3, "labelPadding": 3}}
          }
        },
        {
          "data": {"values": [{}]},
          "mark": {"type": "rect", "color": "#8BB33F"},
          "encoding": {
            "x": {"datum": 54.25, "type": "quantitative", "scale": {"domain": [-0.1875, 119.5625], "nice": false, "zero": false}, "axis": null},
            "x2": {"datum": 80.1},
            "y": {"datum": 111.1, "type": "quantitative", "scale": {"domain": [0, 100], "nice": false, "zero": false},
                  "axis": {"orient": "right", "values": [0, 30, 70, 100], "labelFlush": true, "tickSize": 3, "labelPadding": 3}},
            "y2": {"datum": 77.8}
          }
        },
        {
          "data": {"values": [{}]},
          "mark": {"type": "text", "color": "#ffffff", "font": "Open Sans", "fontSize": 27, "align": "center", "baseline": "middle", "text": "freshforex.com"},
          "encoding": {
            "x": {"datum": 67.2, "type": "quantitative", "scale": {"domain": [-0.1875, 119.5625], "nice": false, "zero": false}, "axis": null},
            "y": {"datum": 95.5, "type": "quantitative", "scale": {"domain": [0, 100], "nice": false, "zero": false},
                  "axis": {"orient": "right", "values": [0, 30, 70, 100], "labelFlush": true, "tickSize": 3, "labelPadding": 3}}
          }
        },
        {
          "data": {"values": [{}]},
          "mark": {"type": "text", "color": "#000080", "fontSize": 9.3, "align": "left", "baseline": "middle", "text": "RSI(14) 70.6077"},
          "encoding": {
            "x": {"datum": 0.55, "type": "quantitative", "scale": {"domain": [-0.1875, 119.5625], "nice": false, "zero": false}, "axis": null},
            "y": {"datum": 92.6, "type": "quantitative", "scale": {"domain": [0, 100], "nice": false, "zero": false},
                  "axis": {"orient": "right", "values": [0, 30, 70, 100], "labelFlush": true, "tickSize": 3, "labelPadding": 3}}
          }
        }
      ]
    },
    {
      "width": 958,
      "height": 116,
      "layer": [
        {
          "data": {"name": "days"},
          "mark": {"type": "rule", "color": "#000080", "strokeDash": [3, 2], "strokeWidth": 1, "clip": true},
          "encoding": {
            "x": {"field": "i", "type": "quantitative", "scale": {"domain": [-0.1875, 119.5625], "nice": false, "zero": false},
                  "axis": {"orient": "bottom", "values": [0, 8, 16, 24, 32, 40, 48, 56, 64, 72, 80, 88, 96, 104, 112],
                           "labelExpr": "['9 Mar 2017','9 Mar 14:00','9 Mar 22:00','10 Mar 06:00','10 Mar 14:00','10 Mar 22:00','13 Mar 06:00','13 Mar 14:00','13 Mar 22:00','14 Mar 06:00','14 Mar 14:00','14 Mar 22:00','15 Mar 06:00','15 Mar 14:00','15 Mar 22:00'][datum.value / 8]",
                           "labelAlign": "left", "labelOverlap": false, "labelFlush": false, "tickSize": 4, "labelPadding": 2}}
          }
        },
        {
          "data": {"name": "adx"},
          "mark": {"type": "line", "color": "#F5D3A3", "strokeWidth": 1, "strokeDash": [3, 2], "clip": true},
          "encoding": {
            "x": {"field": "i", "type": "quantitative", "scale": {"domain": [-0.1875, 119.5625], "nice": false, "zero": false},
                  "axis": {"orient": "bottom", "values": [0, 8, 16, 24, 32, 40, 48, 56, 64, 72, 80, 88, 96, 104, 112],
                           "labelExpr": "['9 Mar 2017','9 Mar 14:00','9 Mar 22:00','10 Mar 06:00','10 Mar 14:00','10 Mar 22:00','13 Mar 06:00','13 Mar 14:00','13 Mar 22:00','14 Mar 06:00','14 Mar 14:00','14 Mar 22:00','15 Mar 06:00','15 Mar 14:00','15 Mar 22:00'][datum.value / 8]",
                           "labelAlign": "left", "labelOverlap": false, "labelFlush": false, "tickSize": 4, "labelPadding": 2}},
            "y": {"field": "mdi", "type": "quantitative", "scale": {"domain": [2, 54], "nice": false, "zero": false},
                  "axis": {"orient": "right", "values": [2, 54], "labelFlush": true, "tickSize": 3, "labelPadding": 3}}
          }
        },
        {
          "data": {"name": "adx"},
          "mark": {"type": "line", "color": "#9ACD32", "strokeWidth": 1, "strokeDash": [3, 2], "clip": true},
          "encoding": {
            "x": {"field": "i", "type": "quantitative", "scale": {"domain": [-0.1875, 119.5625], "nice": false, "zero": false},
                  "axis": {"orient": "bottom", "values": [0, 8, 16, 24, 32, 40, 48, 56, 64, 72, 80, 88, 96, 104, 112],
                           "labelExpr": "['9 Mar 2017','9 Mar 14:00','9 Mar 22:00','10 Mar 06:00','10 Mar 14:00','10 Mar 22:00','13 Mar 06:00','13 Mar 14:00','13 Mar 22:00','14 Mar 06:00','14 Mar 14:00','14 Mar 22:00','15 Mar 06:00','15 Mar 14:00','15 Mar 22:00'][datum.value / 8]",
                           "labelAlign": "left", "labelOverlap": false, "labelFlush": false, "tickSize": 4, "labelPadding": 2}},
            "y": {"field": "pdi", "type": "quantitative", "scale": {"domain": [2, 54], "nice": false, "zero": false},
                  "axis": {"orient": "right", "values": [2, 54], "labelFlush": true, "tickSize": 3, "labelPadding": 3}}
          }
        },
        {
          "data": {"name": "adx"},
          "mark": {"type": "line", "color": "#FF0000", "strokeWidth": 1.5, "clip": true},
          "encoding": {
            "x": {"field": "i", "type": "quantitative", "scale": {"domain": [-0.1875, 119.5625], "nice": false, "zero": false},
                  "axis": {"orient": "bottom", "values": [0, 8, 16, 24, 32, 40, 48, 56, 64, 72, 80, 88, 96, 104, 112],
                           "labelExpr": "['9 Mar 2017','9 Mar 14:00','9 Mar 22:00','10 Mar 06:00','10 Mar 14:00','10 Mar 22:00','13 Mar 06:00','13 Mar 14:00','13 Mar 22:00','14 Mar 06:00','14 Mar 14:00','14 Mar 22:00','15 Mar 06:00','15 Mar 14:00','15 Mar 22:00'][datum.value / 8]",
                           "labelAlign": "left", "labelOverlap": false, "labelFlush": false, "tickSize": 4, "labelPadding": 2}},
            "y": {"field": "adx", "type": "quantitative", "scale": {"domain": [2, 54], "nice": false, "zero": false},
                  "axis": {"orient": "right", "values": [2, 54], "labelFlush": true, "tickSize": 3, "labelPadding": 3}}
          }
        },
        {
          "data": {"values": [{}]},
          "mark": {"type": "text", "color": "#000080", "fontSize": 9.3, "align": "left", "baseline": "middle", "text": "ADX(14) 37.2052 +DI:21.9642 -DI:10.1519"},
          "encoding": {
            "x": {"datum": 0.55, "type": "quantitative", "scale": {"domain": [-0.1875, 119.5625], "nice": false, "zero": false},
                  "axis": {"orient": "bottom", "values": [0, 8, 16, 24, 32, 40, 48, 56, 64, 72, 80, 88, 96, 104, 112],
                           "labelExpr": "['9 Mar 2017','9 Mar 14:00','9 Mar 22:00','10 Mar 06:00','10 Mar 14:00','10 Mar 22:00','13 Mar 06:00','13 Mar 14:00','13 Mar 22:00','14 Mar 06:00','14 Mar 14:00','14 Mar 22:00','15 Mar 06:00','15 Mar 14:00','15 Mar 22:00'][datum.value / 8]",
                           "labelAlign": "left", "labelOverlap": false, "labelFlush": false, "tickSize": 4, "labelPadding": 2}},
            "y": {"datum": 50, "type": "quantitative", "scale": {"domain": [2, 54], "nice": false, "zero": false},
                  "axis": {"orient": "right", "values": [2, 54], "labelFlush": true, "tickSize": 3, "labelPadding": 3}}
          }
        }
      ]
    }
  ]
}
